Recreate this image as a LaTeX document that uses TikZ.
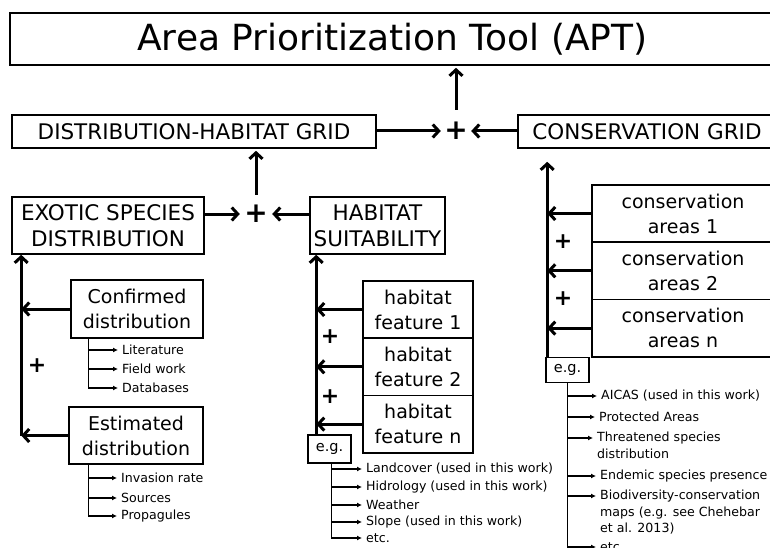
\documentclass[tikz,border=0pt]{standalone}
\usepackage{fontspec}
\setmainfont{DejaVu Sans}
\usetikzlibrary{arrows.meta,calc}
\begin{document}
\begin{tikzpicture}[x=1pt,y=-1pt,
  box/.style={draw, line width=1.6pt, inner sep=0pt, align=center, font=\fontsize{19}{25}\selectfont},
  capbox/.style={box, font=\fontsize{21.5}{26}\selectfont},
  egbox/.style={draw, line width=1.6pt, inner sep=0pt, minimum width=43pt, font=\fontsize{14.5}{14.5}\selectfont},
  plus/.style={inner sep=0pt, minimum size=30pt, font=\fontsize{28}{28}\bfseries\selectfont},
  splus/.style={inner sep=0pt, font=\fontsize{22}{22}\bfseries\selectfont},
  conn/.style={line width=3pt, -{Straight Barb[length=6pt,width=13pt]}},
  br/.style={line width=1.2pt, -{Latex[length=5pt,width=5pt]}},
  sm/.style={anchor=west, inner xsep=4pt, inner ysep=1pt, align=left, font=\fontsize{12.6}{16.5}\selectfont}]
\clip (0,0) rectangle (770,548);
\fill[white] (0,0) rectangle (770,548);

% top level
\node[box, minimum width=765pt, minimum height=52pt, font=\fontsize{36}{40}\selectfont] (title) at (392.5,39) {Area Prioritization Tool (APT)};
\node[capbox, minimum width=364pt, minimum height=33pt] (dhg) at (194,131.5) {DISTRIBUTION-HABITAT GRID};
\node[capbox, minimum width=258pt, minimum height=33pt] (cg) at (647,131.5) {CONSERVATION GRID};
\node[plus] (p1) at (456,131) {+};
\draw[conn] (dhg.east |- p1.west) -- (p1.west);
\draw[conn] (cg.west |- p1.east) -- (p1.east);
\draw[conn, shorten <=6pt, shorten >=2pt] (p1.north) -- (p1.north |- title.south);

% second level
\node[capbox, minimum width=192pt, minimum height=57pt] (esd) at (108,225.5) {EXOTIC SPECIES\\DISTRIBUTION};
\node[capbox, minimum width=135pt, minimum height=57pt] (hs) at (377.5,225.5) {HABITAT\\SUITABILITY};
\node[plus, minimum size=32pt] (p2) at (256,214) {+};
\draw[conn] (esd.east |- p2.west) -- (p2.west);
\draw[conn] (hs.west |- p2.east) -- (p2.east);
\draw[conn, shorten <=3pt, shorten >=2pt] (p2.north) -- (p2.north |- dhg.south);

% exotic species distribution chain
\node[box, minimum width=132pt, minimum height=58pt] (conf) at (137,309) {Confirmed\\distribution};
\node[box, minimum width=134pt, minimum height=57pt] (est) at (136,435.5) {Estimated\\distribution};
\coordinate (lb) at ($(est.west)+(-47,0)$);
\draw[conn] (est.west) -- (lb);
\draw[conn] (conf.west) -- (conf.west -| lb);
\draw[conn] (lb) -- (lb |- esd.south);
\node[splus] (p3) at (37,366) {+};

\coordinate (cb) at ($(conf.south west)+(18,0)$);
\node[sm] (lit) at (118,350) {Literature};
\node[sm] (fw) at (118,369) {Field work};
\node[sm] (db) at (118,388) {Databases};
\draw[br] (cb) |- (lit.west);
\draw[br] (cb) |- (fw.west);
\draw[br] (cb) |- (db.west);

\coordinate (eb) at ($(est.south west)+(20,0)$);
\node[sm] (inv) at (117,478) {Invasion rate};
\node[sm] (src) at (117,498) {Sources};
\node[sm] (prop) at (117,516) {Propagules};
\draw[br] (eb) |- (inv.west);
\draw[br] (eb) |- (src.west);
\draw[br] (eb) |- (prop.west);

% habitat suitability chain
\node[box, minimum width=110pt, minimum height=57.3pt] (f1) at (418,309.5) {habitat\\feature 1};
\node[box, minimum width=110pt, minimum height=57.3pt] (f2) at (418,366.8) {habitat\\feature 2};
\node[box, minimum width=110pt, minimum height=57.3pt] (f3) at (418,424.1) {habitat\\feature n};
\node[egbox, minimum height=28pt] (eg1) at (329.5,449) {e.g.};
\coordinate (hx) at ($(eg1.north west)+(9,0)$);
\draw[conn] (hx) -- (hx |- hs.south);
\draw[conn] (f1.west) -- (f1.west -| hx);
\draw[conn] (f2.west) -- (f2.west -| hx);
\draw[conn] (f3.west) -- (f3.west -| hx);
\node[splus] (p4) at (330,337) {+};
\node[splus] (p5) at (330,397) {+};

\coordinate (hb) at ($(eg1.south west)+(24,0)$);
\node[sm] (lc) at (362,469) {Landcover (used in this work)};
\node[sm] (hid) at (362,487) {Hidrology (used in this work)};
\node[sm] (wea) at (362,505) {Weather};
\node[sm] (slo) at (362,522) {Slope (used in this work)};
\node[sm] (etc1) at (362,538) {etc.};
\draw[br] (hb) |- (lc.west);
\draw[br] (hb) |- (hid.west);
\draw[br] (hb) |- (wea.west);
\draw[br] (hb) |- (slo.west);
\draw[br] (hb) |- (etc1.west);

% conservation chain
\node[box, minimum width=182pt, minimum height=57.3pt] (c1) at (683,213.5) {conservation\\areas 1};
\node[box, minimum width=182pt, minimum height=57.3pt] (c2) at (683,270.8) {conservation\\areas 2};
\node[box, minimum width=182pt, minimum height=57.3pt] (c3) at (683,328.1) {conservation\\areas n};
\node[egbox, minimum height=25pt] (eg2) at (567.5,370) {e.g.};
\coordinate (cx) at ($(eg2.north west)+(2,0)$);
\draw[conn, shorten >=13pt] (cx) -- (cx |- cg.south);
\draw[conn] (c1.west) -- (c1.west -| cx);
\draw[conn] (c2.west) -- (c2.west -| cx);
\draw[conn] (c3.west) -- (c3.west -| cx);
\node[splus] (p6) at (563,242) {+};
\node[splus] (p7) at (563,299) {+};

\coordinate (gb) at (eg2.south);
\node[sm] (aic) at (597,396) {AICAS (used in this work)};
\node[sm] (pa) at (595,417) {Protected Areas};
\node[sm, anchor=north west] (thr) at (593,431) {Threatened species\\distribution};
\node[sm] (end) at (596,476) {Endemic species presence};
\node[sm, anchor=north west] (bio) at (596,489) {Biodiversity-conservation\\maps (e.g. see Chehebar\\et al. 2013)};
\node[sm] (etc2) at (596,547) {etc.};
\draw[br] (gb) |- (aic.west);
\draw[br] (gb) |- (pa.west);
\draw[br] (gb) |- ($(thr.north west)+(0,7)$);
\draw[br] (gb) |- (end.west);
\draw[br] (gb) |- ($(bio.north west)+(0,7)$);
\draw[br] (gb) |- (etc2.west);
\end{tikzpicture}
\end{document}
